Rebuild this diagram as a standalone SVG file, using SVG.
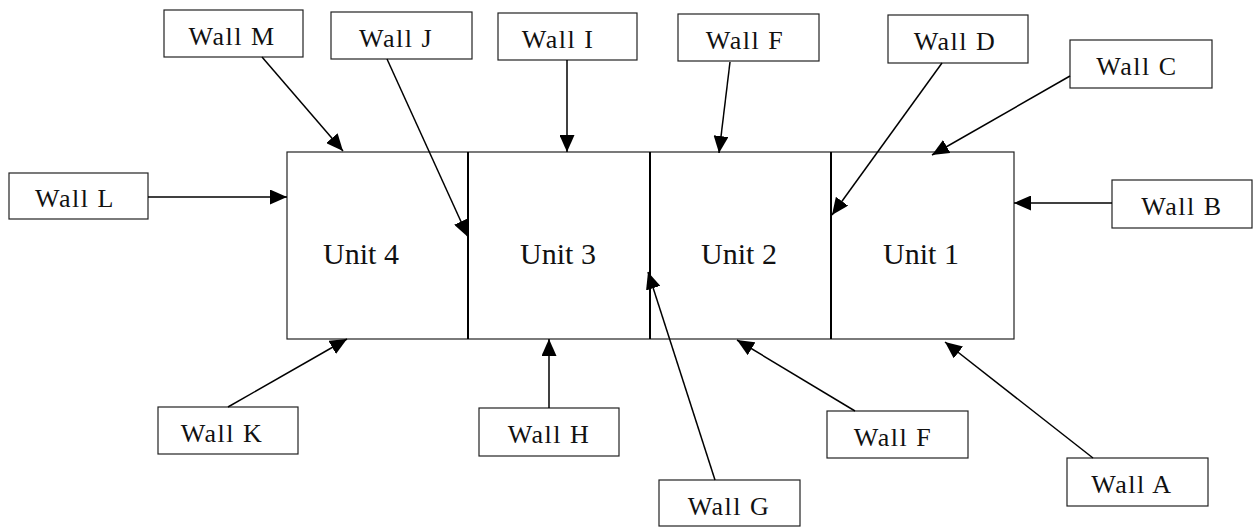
<svg xmlns="http://www.w3.org/2000/svg" width="1253" height="527" viewBox="0 0 1253 527">
  <defs>
    <marker id="arrow" markerUnits="userSpaceOnUse" markerWidth="17" markerHeight="15" refX="17" refY="7.5" orient="auto">
      <path d="M0,0 L17,7.5 L0,15 Z" fill="#000"/>
    </marker>
    <style>
      .box { fill: #fff; stroke: #222; stroke-width: 1.2; }
      .lbl { font-family: "Liberation Serif", "Times New Roman", serif; font-size: 26px; fill: #111; text-anchor: middle; letter-spacing: 1.5px; }
      .unit { font-family: "Liberation Serif", "Times New Roman", serif; font-size: 30px; fill: #111; text-anchor: middle; }
      .wire { stroke: #000; stroke-width: 1.5; fill: none; marker-end: url(#arrow); }
      .div { stroke: #000; stroke-width: 2; }
    </style>
  </defs>
  <rect width="1253" height="527" fill="#fff"/>

  <!-- building strip with four units -->
  <g id="building">
    <rect class="box" x="287" y="152" width="727" height="187"/>
    <line class="div" x1="468" y1="152" x2="468" y2="339"/>
    <line class="div" x1="650" y1="152" x2="650" y2="339"/>
    <line class="div" x1="831" y1="152" x2="831" y2="339"/>
  </g>
  <g id="unit4"><text class="unit" x="361" y="264">Unit 4</text></g>
  <g id="unit3"><text class="unit" x="558" y="264">Unit 3</text></g>
  <g id="unit2"><text class="unit" x="739" y="264">Unit 2</text></g>
  <g id="unit1"><text class="unit" x="921" y="264">Unit 1</text></g>

  <!-- wall labels -->
  <g id="wallM"><rect class="box" x="164" y="10" width="139" height="47"/><text class="lbl" x="232" y="45">Wall M</text></g>
  <g id="wallJ"><rect class="box" x="331" y="12" width="141" height="47"/><text class="lbl" x="396" y="47">Wall J</text></g>
  <g id="wallI"><rect class="box" x="498" y="13" width="139" height="47"/><text class="lbl" x="558" y="48">Wall I</text></g>
  <g id="wallE"><rect class="box" x="678" y="14" width="141" height="47"/><text class="lbl" x="745" y="49">Wall F</text></g>
  <g id="wallD"><rect class="box" x="888" y="15" width="140" height="48"/><text class="lbl" x="955" y="50">Wall D</text></g>
  <g id="wallC"><rect class="box" x="1070" y="40" width="142" height="48"/><text class="lbl" x="1137" y="75">Wall C</text></g>
  <g id="wallB"><rect class="box" x="1112" y="180" width="140" height="48"/><text class="lbl" x="1182" y="215">Wall B</text></g>
  <g id="wallL"><rect class="box" x="9" y="173" width="139" height="46"/><text class="lbl" x="75" y="207">Wall L</text></g>
  <g id="wallK"><rect class="box" x="158" y="407" width="140" height="47"/><text class="lbl" x="222" y="442">Wall K</text></g>
  <g id="wallH"><rect class="box" x="479" y="408" width="140" height="48"/><text class="lbl" x="549" y="443">Wall H</text></g>
  <g id="wallG"><rect class="box" x="659" y="480" width="141" height="46"/><text class="lbl" x="729" y="515">Wall G</text></g>
  <g id="wallF"><rect class="box" x="827" y="411" width="141" height="47"/><text class="lbl" x="893" y="446">Wall F</text></g>
  <g id="wallA"><rect class="box" x="1067" y="458" width="141" height="48"/><text class="lbl" x="1132" y="493">Wall A</text></g>

  <!-- connectors -->
  <g id="connectors">
    <line class="wire" x1="148" y1="197" x2="287" y2="197"/>
    <line class="wire" x1="262" y1="57" x2="343" y2="151"/>
    <line class="wire" x1="387" y1="59" x2="468" y2="237"/>
    <line class="wire" x1="567" y1="60" x2="567" y2="152"/>
    <line class="wire" x1="730" y1="62" x2="719" y2="153"/>
    <line class="wire" x1="942" y1="63" x2="832" y2="215"/>
    <line class="wire" x1="1070" y1="76" x2="932" y2="155"/>
    <line class="wire" x1="1112" y1="203" x2="1014" y2="203"/>
    <line class="wire" x1="228" y1="407" x2="347" y2="339"/>
    <line class="wire" x1="549" y1="408" x2="549" y2="339"/>
    <line class="wire" x1="715" y1="480" x2="648" y2="272"/>
    <line class="wire" x1="855" y1="411" x2="737" y2="340"/>
    <line class="wire" x1="1093" y1="458" x2="945" y2="342"/>
  </g>
</svg>
